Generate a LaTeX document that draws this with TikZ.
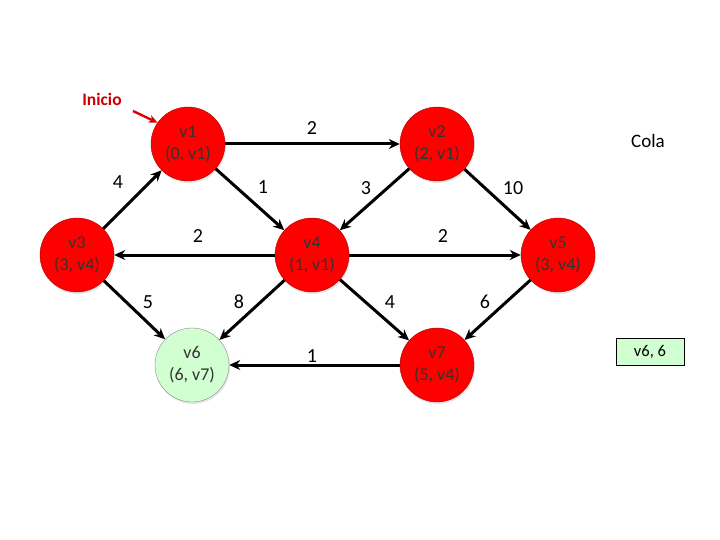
\documentclass[tikz,border=0pt]{standalone}
\usepackage{fontspec}
\setmainfont{Carlito}
\usetikzlibrary{arrows.meta,shadows}

\begin{document}
\begin{tikzpicture}[
        x=1pt, y=-1pt,
        vertex/.style={circle, draw=red!70!black, fill=red, minimum size=74pt, inner sep=0pt,
            align=center, text=black!80, font=\fontsize{18}{22}\selectfont,
            drop shadow={opacity=0.2, shadow xshift=1pt, shadow yshift=-2pt}},
        done/.style={vertex, draw=black!45, fill=green!18},
        edge/.style={-{Stealth[length=11pt, width=10pt]}, line width=3pt},
        weight/.style={font=\fontsize{20}{22}\selectfont}
    ]
        \useasboundingbox (0,0) rectangle (720,540);

        % Graph vertices with distance and previous vertex
        \node[vertex] (v1) at (188,144) {v1\\(0, v1)};
        \node[vertex] (v2) at (437,144) {v2\\(2, v1)};
        \node[vertex] (v3) at (77,255) {v3\\(3, v4)};
        \node[vertex] (v4) at (312,255) {v4\\(1, v1)};
        \node[vertex] (v5) at (558,255) {v5\\(3, v4)};
        \node[done] (v6) at (192,365) {v6\\(6, v7)};
        \node[vertex] (v7) at (437,365) {v7\\(5, v4)};

        % Start marker
        \node[red!80!black, font=\fontsize{17.5}{19}\selectfont\bfseries] (inicio) at (102,99) {Inicio};
        \coordinate (ptr) at (133,111);
        \draw[red!85!black, line width=2.4pt, -{Stealth[length=9pt, width=8pt]}] (ptr) -- (v1.145);

        % Queue
        \node[font=\fontsize{19}{21}\selectfont] (cola) at (648,141) {Cola};
        \node[draw, fill=green!18, minimum width=68pt, minimum height=27pt,
            font=\fontsize{16.5}{18}\selectfont] (item) at (650,352) {v6, 6};

        % Edges
        \draw[edge] (v1) -- (v2);
        \draw[edge] (v3) -- (v1);
        \draw[edge] (v1) -- (v4);
        \draw[edge] (v2) -- (v4);
        \draw[edge] (v2) -- (v5);
        \draw[edge] (v4) -- (v3);
        \draw[edge] (v4) -- (v5);
        \draw[edge] (v3) -- (v6);
        \draw[edge] (v4) -- (v6);
        \draw[edge] (v4) -- (v7);
        \draw[edge] (v5) -- (v7);
        \draw[edge] (v7) -- (v6);

        % Edge weights
        \node[weight] (w12) at (312,128) {2};
        \node[weight] (w31) at (118,182) {4};
        \node[weight] (w14) at (263,187) {1};
        \node[weight] (w24) at (366,188) {3};
        \node[weight] (w25) at (513,188) {10};
        \node[weight] (w43) at (198,236) {2};
        \node[weight] (w45) at (443,236) {2};
        \node[weight] (w36) at (148,302) {5};
        \node[weight] (w46) at (239,302) {8};
        \node[weight] (w47) at (390,302) {4};
        \node[weight] (w57) at (485,302) {6};
        \node[weight] (w76) at (312,356) {1};
    \end{tikzpicture}
\end{document}
